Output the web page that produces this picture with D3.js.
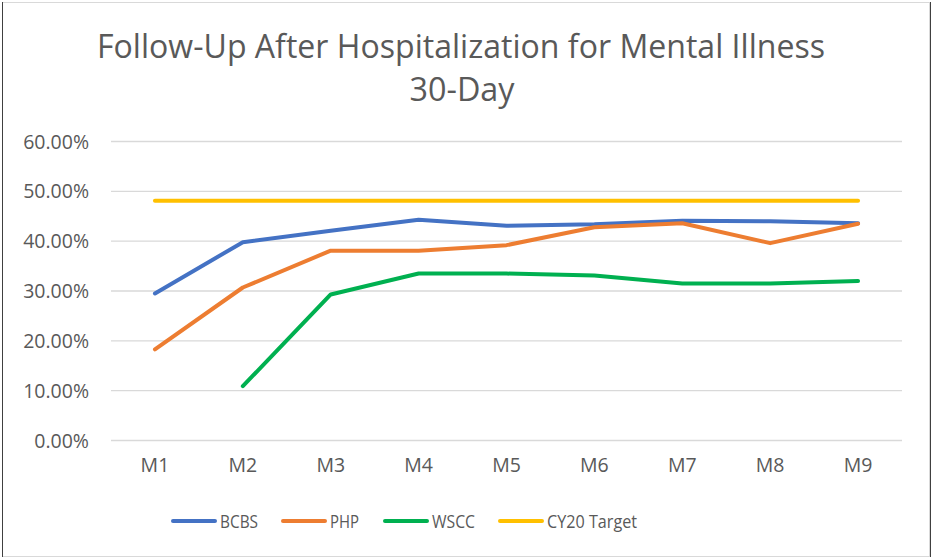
<!DOCTYPE html>
<html>
<head>
<meta charset="utf-8">
<script src="https://cdn.jsdelivr.net/npm/d3@7"></script>
<style>
    body { margin: 0; background: #fff; }
    svg text { font-family: "Open Sans", sans-serif; fill: #595959; }
</style>
</head>
<body>
<div id="chart"></div>
<script>
// Chart data
const months = ['M1', 'M2', 'M3', 'M4', 'M5', 'M6', 'M7', 'M8', 'M9'];
const bcbs = [0.294, 0.397, 0.420, 0.442, 0.430, 0.433, 0.440, 0.439, 0.435];
const php = [0.182, 0.306, 0.380, 0.380, 0.391, 0.427, 0.435, 0.395, 0.434];
const wscc = [null, 0.108, 0.292, 0.334, 0.334, 0.330, 0.314, 0.314, 0.319];
const target = [0.48, 0.48, 0.48, 0.48, 0.48, 0.48, 0.48, 0.48, 0.48];
const yTicks = [0, 0.1, 0.2, 0.3, 0.4, 0.5, 0.6];

const seriesList = [
    { name: 'BCBS', values: bcbs, color: '#4472C4' },
    { name: 'PHP', values: php, color: '#ED7D31' },
    { name: 'WSCC', values: wscc, color: '#00B050' },
    { name: 'CY20 Target', values: target, color: '#FFC000' }
];

const W = 932, H = 560;
const margin = { top: 141, right: 30, bottom: 120, left: 111 };
const width = 902 - margin.left;
const height = 440 - margin.top;

const svg = d3.select('#chart')
    .append('svg')
    .attr('width', W)
    .attr('height', H);

// frame
svg.append('rect')
    .attr('x', 2.5).attr('y', 2.5)
    .attr('width', 927).attr('height', 554)
    .attr('fill', '#fff')
    .attr('stroke', '#d9d9d9');
svg.append('line').attr('x1', 2.5).attr('x2', 2.5).attr('y1', 2).attr('y2', 557)
    .attr('stroke', '#404040');
svg.append('line').attr('x1', 930.5).attr('x2', 930.5).attr('y1', 2).attr('y2', 557)
    .attr('stroke', '#404040');

// title
const title = svg.append('text')
    .attr('text-anchor', 'middle')
    .style('font-size', '32px');
title.append('tspan').attr('x', 461).attr('y', 58)
    .attr('textLength', 728).attr('lengthAdjust', 'spacingAndGlyphs')
    .text('Follow-Up After Hospitalization for Mental Illness');
title.append('tspan').attr('x', 462).attr('y', 101)
    .attr('textLength', 105).attr('lengthAdjust', 'spacingAndGlyphs')
    .text('30-Day');

const g = svg.append('g')
    .attr('transform', `translate(${margin.left},${margin.top})`);

// scales
const xScale = d3.scaleBand().domain(months).range([0, width]);
const yScale = d3.scaleLinear().domain([0, 0.6]).range([height, 0]);
const xPos = m => xScale(m) + xScale.bandwidth() / 2;

// gridlines + y labels
const yAxis = d3.axisLeft(yScale)
    .tickValues(yTicks)
    .tickSize(-width)
    .tickPadding(22)
    .tickFormat(d3.format('.2%'));

g.append('g')
    .attr('class', 'y-axis')
    .call(yAxis)
    .call(sel => sel.select('.domain').remove())
    .call(sel => sel.selectAll('.tick line').attr('stroke', '#d9d9d9').attr('stroke-width', 1.3))
    .call(sel => sel.selectAll('.tick text')
        .attr('dy', '7px')
        .style('font-size', '19.5px')
        .attr('fill', '#595959'));

// x labels
const xAxis = d3.axisBottom(xScale).tickSize(0).tickPadding(20);
g.append('g')
    .attr('class', 'x-axis')
    .attr('transform', `translate(0,${height})`)
    .call(xAxis)
    .call(sel => sel.select('.domain').remove())
    .call(sel => sel.selectAll('.tick text')
        .attr('dy', '0.71em')
        .attr('y', 18)
        .style('font-size', '19.5px')
        .attr('fill', '#595959'));

// lines
const line = d3.line()
    .defined(d => d.v != null)
    .x(d => xPos(d.m))
    .y(d => yScale(d.v));

seriesList.forEach(s => {
    g.append('path')
        .datum(months.map((m, i) => ({ m: m, v: s.values[i] })))
        .attr('fill', 'none')
        .attr('stroke', s.color)
        .attr('stroke-width', 4)
        .attr('stroke-linecap', 'round')
        .attr('stroke-linejoin', 'round')
        .attr('d', line);
});

// legend
const legendX = [173, 283, 385, 500];
const legendTextW = [38, 29, 43, 90];
const legend = svg.append('g');
seriesList.forEach((s, i) => {
    const lg = legend.append('g').attr('transform', `translate(${legendX[i]},521)`);
    lg.append('line')
        .attr('x1', 0).attr('x2', 42)
        .attr('stroke', s.color)
        .attr('stroke-width', 4)
        .attr('stroke-linecap', 'round');
    lg.append('text')
        .attr('x', 47).attr('y', 7)
        .style('font-size', '18px')
        .attr('textLength', legendTextW[i])
        .attr('lengthAdjust', 'spacingAndGlyphs')
        .text(s.name);
});
</script>
</body>
</html>
